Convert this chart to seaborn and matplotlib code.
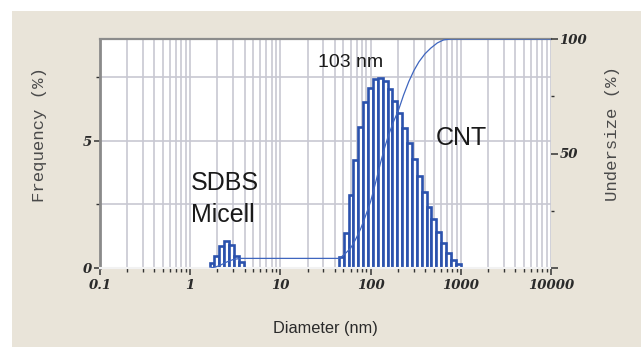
import numpy as np
import pandas as pd
import matplotlib
matplotlib.use("Agg")
import matplotlib.pyplot as plt
import seaborn as sns
from matplotlib.patches import Rectangle
from matplotlib.ticker import FixedLocator, NullFormatter, LogLocator

# Frequency distribution (%) on log-spaced diameter bins
bin_step_log = 0.054  # bin width in decades
sdbs_first_edge_nm = 1.64
sdbs_freq = [0.20, 0.48, 0.85, 1.05, 0.90, 0.48, 0.22]
cnt_first_edge_nm = 44.5
cnt_freq = [0.44, 1.37, 2.87, 4.25, 5.56, 6.51, 7.07, 7.43, 7.47, 7.34,
            7.04, 6.55, 6.09, 5.50, 4.91, 4.28, 3.60, 3.00, 2.41, 1.92,
            1.43, 0.97, 0.58, 0.31, 0.16]

# Cumulative undersize curve (%)
undersize_d_nm = [1.64, 1.9, 2.2, 2.6, 3.0, 3.6, 44.5, 46.4, 52, 59.9, 68,
                  77.4, 88, 100, 114, 129, 143, 158, 180, 204, 232, 265,
                  302, 343, 400, 464, 550, 645, 774, 10000]
undersize_pct = [0, 0.4, 1.4, 2.8, 3.7, 4.2, 4.2, 4.5, 6.2, 8.6, 12.4,
                 17.0, 22.8, 29.0, 37.5, 46.0, 52.5, 58.0, 64.0, 69.0, 75.5,
                 81.4, 86.2, 90.0, 93.5, 96.0, 98.3, 99.6, 100, 100]

x_tick_values = [0.1, 1, 10, 100, 1000, 10000]
x_tick_labels = ["0.1", "1", "10", "100", "1000", "10000"]
freq_ticks = [0, 5]
freq_minor = [2.5, 7.5]
under_ticks = [0, 50, 100]
under_tick_labels = ["", "50", "100"]
under_minor = [25, 75]

BLUE = "#2b52ad"
LINE_BLUE = "#3f66bf"
BEIGE = "#e9e4d9"
GRID = "#c8c8d2"


def peak_table(first_edge_nm, freq):
    lo = np.log10(first_edge_nm)
    n = len(freq)
    centers_nm = 10 ** (lo + bin_step_log * (np.arange(n) + 0.5))
    df = pd.DataFrame({"diameter": centers_nm, "freq": freq})
    return df, (lo, lo + bin_step_log * n), n


sns.set_style("ticks")
W, H = 641, 347
fig = plt.figure(figsize=(W / 100, H / 100), dpi=100, facecolor="white")
fig.add_artist(Rectangle((12 / W, 0), (W - 12) / W, (H - 11) / H,
                         transform=fig.transFigure, facecolor=BEIGE,
                         edgecolor="none", zorder=-5))

left, right, top, bottom = 100, 551, 39, 268
ax = fig.add_axes([left / W, 1 - bottom / H, (right - left) / W, (bottom - top) / H])
ax.set_facecolor("white")
ax.set_axisbelow(True)

for first, freq in [(sdbs_first_edge_nm, sdbs_freq), (cnt_first_edge_nm, cnt_freq)]:
    df, brange, n = peak_table(first, freq)
    sns.histplot(data=df, x="diameter", weights="freq", bins=n, binrange=brange,
                 log_scale=True, element="bars", fill=True, facecolor="white",
                 edgecolor=BLUE, linewidth=1.9, ax=ax)

ax.set_xscale("log")
ax.set_xlim(0.1, 10000)
ax.set_ylim(0, 9)
ax.set_xlabel("")
ax.set_ylabel("")

ax.xaxis.set_major_locator(FixedLocator(x_tick_values))
ax.xaxis.set_minor_locator(LogLocator(base=10, subs=np.arange(2, 10), numticks=100))
ax.xaxis.set_minor_formatter(NullFormatter())
ax.set_xticklabels(x_tick_labels)
ax.yaxis.set_major_locator(FixedLocator(freq_ticks))
ax.yaxis.set_minor_locator(FixedLocator(freq_minor))
ax.set_yticklabels([str(v) for v in freq_ticks])

ax.grid(which="both", axis="both", color=GRID, linewidth=1.2)

tick_font = dict(family="DejaVu Serif", style="italic", weight="bold", size=9.5)
for lab in ax.get_xticklabels() + ax.get_yticklabels():
    lab.set(**tick_font, color="#2a2a2a")

ax.tick_params(axis="x", which="major", direction="out", length=5, width=1.1,
               color="#333333", pad=3)
ax.tick_params(axis="x", which="minor", direction="out", length=3, width=1.0,
               color="#333333")
ax.tick_params(axis="y", which="major", direction="out", length=4.5, width=1.1,
               color="#333333", pad=1)
ax.tick_params(axis="y", which="minor", direction="out", length=3, width=1.0,
               color="#333333")

ax.spines["top"].set(color="#8c8c8c", linewidth=1.6)
ax.spines["left"].set(color="#8a8a8a", linewidth=2.0)
ax.spines["bottom"].set(color="#f2f2f2", linewidth=1.5)
ax.spines["right"].set_visible(False)

# Cumulative undersize on the right axis
ax2 = ax.twinx()
under_df = pd.DataFrame({"diameter": undersize_d_nm, "undersize": undersize_pct})
sns.lineplot(data=under_df, x="diameter", y="undersize", estimator=None,
             color=LINE_BLUE, linewidth=0.9, ax=ax2)
ax2.set_ylim(0, 100)
ax2.set_xlim(0.1, 10000)
ax2.set_xlabel("")
ax2.set_ylabel("")
ax2.yaxis.set_major_locator(FixedLocator(under_ticks))
ax2.yaxis.set_minor_locator(FixedLocator(under_minor))
ax2.set_yticklabels(under_tick_labels)
for lab in ax2.get_yticklabels():
    lab.set(**tick_font, color="#2a2a2a")
ax2.tick_params(axis="y", which="major", direction="out", length=5, width=1.1,
                color="#333333", pad=1)
ax2.tick_params(axis="y", which="minor", direction="out", length=2.5, width=1.0,
                color="#333333")
for s in ax2.spines.values():
    s.set_visible(False)

# Annotations
sans = "Liberation Sans"
ax.text(60, 7.91, "103 nm", ha="center", va="baseline", fontsize=14,
        family=sans, color="#1a1a1a")
ax.text(1020, 4.84, "CNT", ha="center", va="baseline", fontsize=18,
        family=sans, color="#1a1a1a")
ax.text(1.02, 3.07, "SDBS", ha="left", va="baseline", fontsize=18,
        family=sans, color="#1a1a1a")
ax.text(1.02, 1.82, "Micell", ha="left", va="baseline", fontsize=18,
        family=sans, color="#1a1a1a")

# Axis titles
mono = dict(family="Liberation Mono", size=12.5, color="#4a4a4a")
fig.text(40 / W, 1 - 135 / H, "Frequency (%)", rotation=90, ha="center",
         va="center", **mono)
fig.text(613 / W, 1 - 134 / H, "Undersize (%)", rotation=90, ha="center",
         va="center", **mono)
fig.text(325 / W, 1 - 328 / H, "Diameter (nm)", ha="center", va="center",
         family=sans, size=11.8, color="#2a2a2a")

fig.savefig("out.png", dpi=100)
